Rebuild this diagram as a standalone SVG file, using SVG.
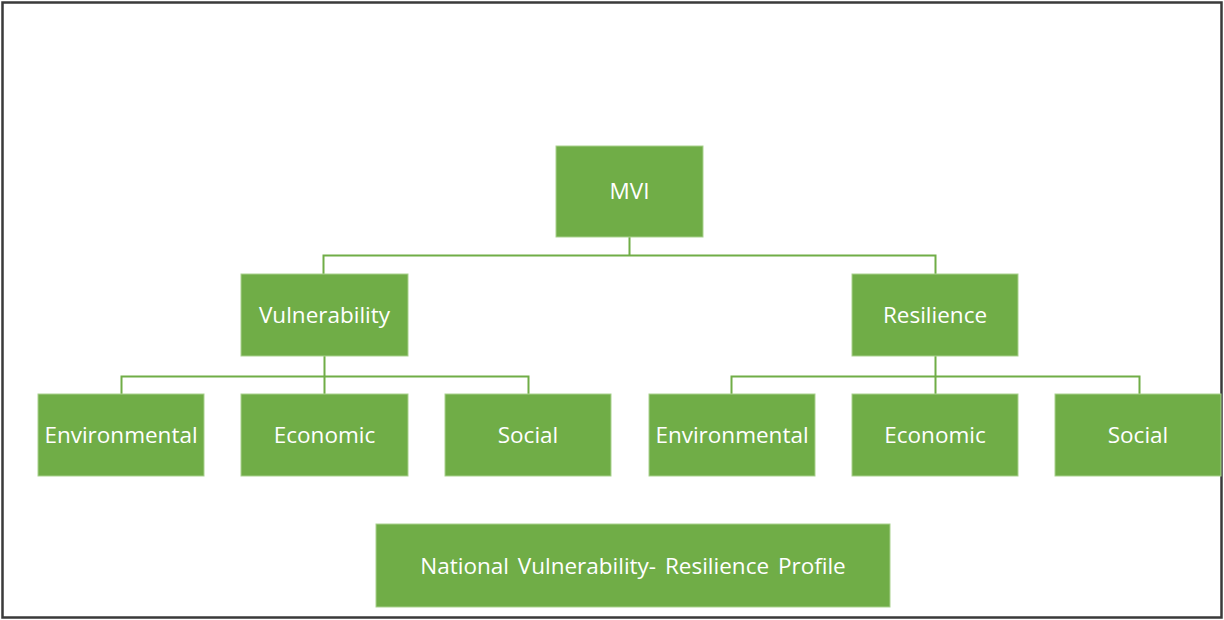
<svg xmlns="http://www.w3.org/2000/svg" width="1224" height="620" viewBox="0 0 1224 620">
<style>
.box{fill:#70AD47;stroke:#A9D18E;stroke-width:1}
.lbl{font-family:"Open Sans","Noto Sans",sans-serif;font-size:22.5px;fill:#FFFFFF;text-anchor:middle;dominant-baseline:central}
.conn{fill:none;stroke:#70AD47;stroke-width:2}
</style>
<rect x="0" y="0" width="1224" height="620" fill="#FFFFFF"/>
<rect x="2.5" y="2.5" width="1219" height="615" fill="none" stroke="#3A3A3A" stroke-width="2.5"/>
<g id="connectors">
<path class="conn" d="M629.5 237 V255.5 M323.5 274 V255.5 H935.5 V274"/>
<path class="conn" d="M324.5 356 V394 M121.5 394 V376.5 H528.5 V394"/>
<path class="conn" d="M935.5 356 V394 M731.5 394 V376.5 H1139.5 V394"/>
</g>
<g id="mvi"><rect class="box" x="556" y="146" width="147" height="91"/><text class="lbl" x="629.5" y="190">MVI</text></g>
<g id="vulnerability"><rect class="box" x="241" y="274" width="167" height="82"/><text class="lbl" x="324.5" y="314">Vulnerability</text></g>
<g id="resilience"><rect class="box" x="852" y="274" width="166" height="82"/><text class="lbl" x="935" y="314">Resilience</text></g>
<g id="v-environmental"><rect class="box" x="38" y="394" width="166" height="82"/><text class="lbl" x="121" y="434">Environmental</text></g>
<g id="v-economic"><rect class="box" x="241" y="394" width="167" height="82"/><text class="lbl" x="324.5" y="434">Economic</text></g>
<g id="v-social"><rect class="box" x="445" y="394" width="166" height="82"/><text class="lbl" x="528" y="434">Social</text></g>
<g id="r-environmental"><rect class="box" x="649" y="394" width="166" height="82"/><text class="lbl" x="732" y="434">Environmental</text></g>
<g id="r-economic"><rect class="box" x="852" y="394" width="166" height="82"/><text class="lbl" x="935" y="434">Economic</text></g>
<g id="r-social"><rect class="box" x="1055" y="394" width="166" height="82"/><text class="lbl" x="1138" y="434">Social</text></g>
<g id="profile"><rect class="box" x="376" y="524" width="514" height="83"/><text class="lbl" x="633" y="565" word-spacing="3">National Vulnerability- Resilience Profile</text></g>
</svg>
